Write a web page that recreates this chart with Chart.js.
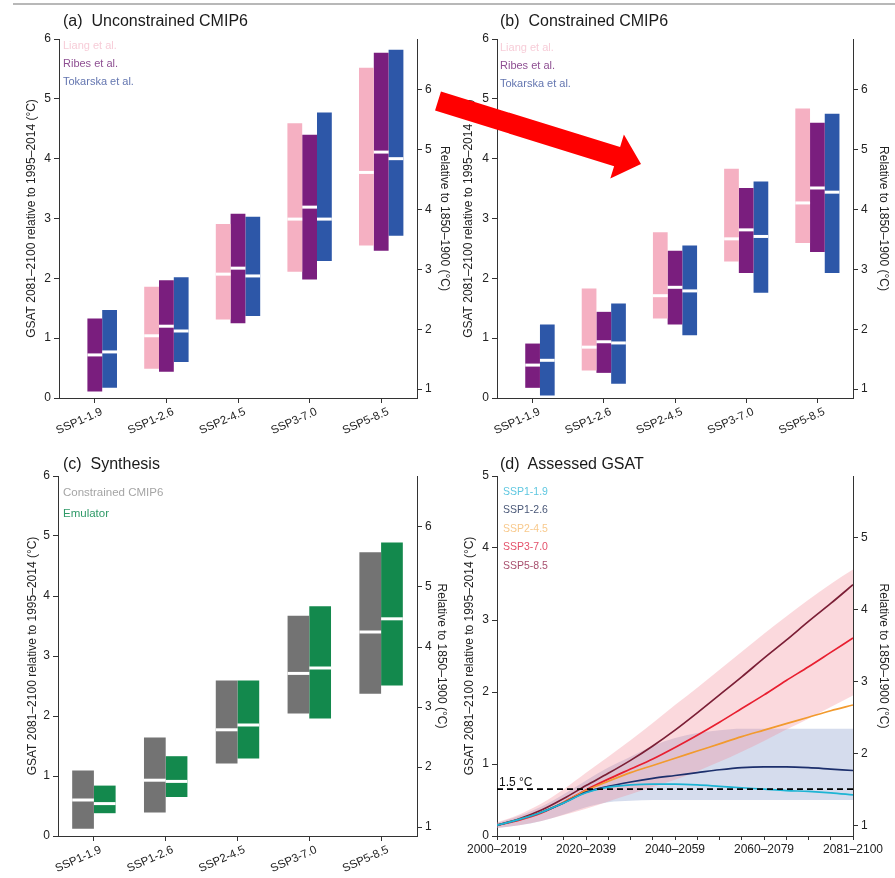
<!DOCTYPE html>
<html><head><meta charset="utf-8">
<script src="https://cdn.jsdelivr.net/npm/chart.js@4.4.1/dist/chart.umd.min.js"></script>
<style>
html,body{margin:0;padding:0;background:#fff;}
body{width:895px;height:878px;position:relative;overflow:hidden;font-family:"Liberation Sans",Arial,sans-serif;}
.panel{position:absolute;}
.ptitle{position:absolute;font-size:16px;line-height:16px;color:#1a1a1a;white-space:pre;}
#topline{position:absolute;left:13px;top:3px;width:882px;height:2px;background:#b8b8b8;}
#arrow{position:absolute;left:0;top:0;pointer-events:none;}
</style></head><body>
<div id="topline"></div>
<div class="panel" style="left:0;top:0"><canvas id="ca" width="455" height="440"></canvas></div>
<div class="panel" style="left:440px;top:0"><canvas id="cb" width="455" height="440"></canvas></div>
<div class="panel" style="left:0;top:440px"><canvas id="cc" width="455" height="438"></canvas></div>
<div class="panel" style="left:440px;top:440px"><canvas id="cd" width="455" height="438"></canvas></div>
<div class="ptitle" style="left:63px;top:13px">(a)  Unconstrained CMIP6</div>
<div class="ptitle" style="left:500px;top:13px">(b)  Constrained CMIP6</div>
<div class="ptitle" style="left:63px;top:456px">(c)  Synthesis</div>
<div class="ptitle" style="left:500px;top:456px">(d)  Assessed GSAT</div>
<svg id="arrow" width="895" height="878">
<polygon points="440.96,91.45 620.1,147.1 623.9,134.6 641,164 610.3,178.6 614.1,166.2 435.04,110.55" fill="#ff0000"/>
</svg>
<script>
// ---------- data ----------
const categories = ['SSP1-1.9','SSP1-2.6','SSP2-4.5','SSP3-7.0','SSP5-8.5'];
const leftAxisTitle = 'GSAT 2081–2100 relative to 1995–2014 (°C)';
const rightAxisTitle = 'Relative to 1850–1900 (°C)';
const baselineOffset = 0.85;   // 1850–1900 minus 1995–2014
const rightTicksBars = [1,2,3,4,5,6];
const rightTicksLines = [1,2,3,4,5];

// (a) Unconstrained CMIP6
const aLiangLow  = [null, 0.49, 1.31, 2.11, 2.55];
const aLiangHigh = [null, 1.86, 2.91, 4.59, 5.52];
const aLiangMed  = [null, 1.04, 2.07, 2.99, 3.77];
const aRibesLow  = [0.11, 0.44, 1.25, 1.98, 2.46];
const aRibesHigh = [1.33, 1.97, 3.08, 4.40, 5.77];
const aRibesMed  = [0.72, 1.20, 2.17, 3.19, 4.11];
const aTokLow    = [0.17, 0.60, 1.37, 2.29, 2.71];
const aTokHigh   = [1.47, 2.02, 3.03, 4.77, 5.82];
const aTokMed    = [0.77, 1.12, 2.04, 2.99, 4.00];

// (b) Constrained CMIP6
const bLiangLow  = [null, 0.46, 1.33, 2.28, 2.59];
const bLiangHigh = [null, 1.83, 2.77, 3.83, 4.84];
const bLiangMed  = [null, 0.85, 1.71, 2.66, 3.26];
const bRibesLow  = [0.17, 0.42, 1.23, 2.09, 2.44];
const bRibesHigh = [0.91, 1.44, 2.46, 3.51, 4.60];
const bRibesMed  = [0.55, 0.94, 1.85, 2.81, 3.51];
const bTokLow    = [0.04, 0.24, 1.05, 1.76, 2.09];
const bTokHigh   = [1.23, 1.58, 2.55, 3.62, 4.75];
const bTokMed    = [0.63, 0.92, 1.79, 2.70, 3.44];

// (c) Synthesis
const cConLow  = [0.12, 0.39, 1.21, 2.04, 2.37];
const cConHigh = [1.09, 1.64, 2.59, 3.67, 4.73];
const cConMed  = [0.60, 0.93, 1.77, 2.71, 3.40];
const cEmuLow  = [0.38, 0.65, 1.29, 1.96, 2.51];
const cEmuHigh = [0.84, 1.33, 2.59, 3.83, 4.89];
const cEmuMed  = [0.54, 0.91, 1.85, 2.80, 3.62];

// (d) Assessed GSAT
const years = [2010,2015,2020,2025,2030,2035,2040,2045,2050,2055,2060,2065,2070,2075,2080,2085,2090];
const periodTickYears = [2010,2030,2050,2070,2090];
const periodLabels = ['2000–2019','2020–2039','2040–2059','2060–2079','2081–2100'];
const ssp119 = [0.15,0.23,0.33,0.46,0.60,0.68,0.71,0.72,0.72,0.71,0.69,0.67,0.65,0.63,0.62,0.60,0.57];
const ssp126 = [0.15,0.23,0.33,0.46,0.61,0.69,0.75,0.80,0.84,0.88,0.92,0.95,0.96,0.96,0.95,0.93,0.91];
const ssp245 = [0.15,0.23,0.33,0.47,0.63,0.76,0.88,0.98,1.08,1.18,1.28,1.38,1.47,1.56,1.65,1.74,1.82];
const ssp370 = [0.15,0.22,0.32,0.47,0.64,0.79,0.93,1.07,1.23,1.40,1.58,1.77,1.96,2.16,2.35,2.55,2.75];
const ssp585 = [0.15,0.24,0.36,0.52,0.70,0.87,1.05,1.25,1.47,1.71,1.96,2.21,2.47,2.72,2.98,3.23,3.49];
const ssp370Low  = [0.11,0.15,0.21,0.29,0.38,0.48,0.58,0.68,0.78,0.90,1.03,1.17,1.32,1.48,1.63,1.79,1.95];
const ssp370High = [0.19,0.30,0.45,0.65,0.88,1.10,1.33,1.57,1.82,2.06,2.31,2.56,2.81,3.05,3.28,3.50,3.70];
const ssp126Low  = [0.11,0.15,0.21,0.30,0.40,0.47,0.49,0.50,0.50,0.50,0.50,0.50,0.50,0.50,0.50,0.50,0.50];
const ssp126High = [0.18,0.28,0.41,0.58,0.77,0.95,1.10,1.25,1.36,1.43,1.47,1.49,1.49,1.49,1.49,1.49,1.49];
const threshold15 = 0.65;

// ---------- helpers ----------
Chart.defaults.font.family = '"Liberation Sans", Arial, sans-serif';
Chart.defaults.color = '#222';
const AX = '#333';

const rng = (lo, hi) => lo.map((l, i) => l == null ? null : [l, hi[i]]);
const pts = arr => years.map((x, i) => ({x, y: arr[i]}));

const medianPlugin = {
  id: 'medians',
  afterDatasetsDraw(chart) {
    const ctx = chart.ctx, ys = chart.scales.y;
    chart.data.datasets.forEach((ds, i) => {
      if (!ds.medians) return;
      chart.getDatasetMeta(i).data.forEach((bar, j) => {
        const m = ds.medians[j];
        if (m == null) return;
        const py = ys.getPixelForValue(m);
        ctx.save();
        ctx.strokeStyle = '#fff'; ctx.lineWidth = 3;
        ctx.beginPath(); ctx.moveTo(bar.x - bar.width / 2, py); ctx.lineTo(bar.x + bar.width / 2, py); ctx.stroke();
        ctx.restore();
      });
    });
  }
};

const textLegend = {
  id: 'textLegend',
  afterDraw(chart, args, o) {
    const ctx = chart.ctx, a = chart.chartArea;
    ctx.save();
    ctx.font = o.size + 'px "Liberation Sans", Arial, sans-serif';
    ctx.textBaseline = 'middle'; ctx.textAlign = 'left';
    let k = 0;
    chart.data.datasets.forEach(ds => {
      if (!ds.legendColor) return;
      ctx.fillStyle = ds.legendColor;
      ctx.fillText(ds.label, a.left + o.x, a.top + o.y0 + o.dy * k);
      k++;
    });
    if (o.note) {
      const ys = chart.scales.y;
      ctx.fillStyle = '#111'; ctx.font = '12px "Liberation Sans", Arial, sans-serif';
      ctx.textBaseline = 'bottom';
      ctx.fillText(o.note.text, a.left + 2, ys.getPixelForValue(o.note.value) - 1);
    }
    ctx.restore();
  }
};

function leftY(max, pad, w) {
  return {
    type: 'linear', position: 'left', min: 0, max: max,
    ticks: {stepSize: 1, padding: 3, font: {size: 12}, color: '#222'},
    grid: {drawOnChartArea: false, tickLength: 5, color: AX},
    border: {color: AX, width: 1},
    title: {display: true, text: leftAxisTitle, font: {size: 12}, color: '#222', padding: {top: pad, bottom: 0}},
    afterFit(s) { s.width = w; }
  };
}
function rightY(max, pad, w, tickVals) {
  return {
    type: 'linear', position: 'right', min: baselineOffset, max: max + baselineOffset,
    ticks: {padding: 3, font: {size: 12}, color: '#222'},
    grid: {drawOnChartArea: false, tickLength: 5, color: AX},
    border: {color: AX, width: 1},
    title: {display: true, text: rightAxisTitle, font: {size: 12}, color: '#222', padding: {top: pad, bottom: 0}},
    afterBuildTicks(s) { s.ticks = tickVals.map(v => ({value: v})); },
    afterFit(s) { s.width = w; }
  };
}
function catX() {
  return {
    type: 'category', offset: true,
    ticks: {minRotation: 24, maxRotation: 24, autoSkip: false, padding: 2, labelOffset: 7, font: {size: 11.5}, color: '#222'},
    grid: {offset: false, drawOnChartArea: false, tickLength: 5, color: AX},
    border: {color: AX, width: 1},
    afterFit(s) { s.height = 42; }
  };
}

function barChart(id, datasets, cfg) {
  return new Chart(document.getElementById(id), {
    type: 'bar',
    data: {labels: categories, datasets: datasets},
    options: {
      responsive: false, animation: false,
      layout: {padding: {top: cfg.top, left: 0, right: 0, bottom: 0}},
      datasets: {bar: {categoryPercentage: cfg.cp, barPercentage: 1, borderWidth: 0, borderSkipped: false}},
      plugins: {legend: {display: false}, tooltip: {enabled: false}, textLegend: cfg.legend},
      scales: {x: catX(), y: leftY(6, cfg.lp, cfg.lw), y2: rightY(6, cfg.rp, cfg.rw, rightTicksBars)}
    },
    plugins: [medianPlugin, textLegend]
  });
}

const PINK = '#f5b0c2', PURPLE = '#7a1e7e', BLUE = '#2d57a8', GREY = '#737373', GREEN = '#13894d';

barChart('ca', [
  {label: 'Liang et al.', data: rng(aLiangLow, aLiangHigh), medians: aLiangMed, backgroundColor: PINK, legendColor: '#f7cdd8'},
  {label: 'Ribes et al.', data: rng(aRibesLow, aRibesHigh), medians: aRibesMed, backgroundColor: PURPLE, legendColor: '#8e4f92'},
  {label: 'Tokarska et al.', data: rng(aTokLow, aTokHigh), medians: aTokMed, backgroundColor: BLUE, legendColor: '#6476b0'}
], {top: 39, cp: 0.62, lp: 24, lw: 59, rp: 3, rw: 38, legend: {x: 4, y0: 7, dy: 18, size: 11}});

barChart('cb', [
  {label: 'Liang et al.', data: rng(bLiangLow, bLiangHigh), medians: bLiangMed, backgroundColor: PINK, legendColor: '#f7cdd8'},
  {label: 'Ribes et al.', data: rng(bRibesLow, bRibesHigh), medians: bRibesMed, backgroundColor: PURPLE, legendColor: '#8e4f92'},
  {label: 'Tokarska et al.', data: rng(bTokLow, bTokHigh), medians: bTokMed, backgroundColor: BLUE, legendColor: '#6476b0'}
], {top: 39, cp: 0.62, lp: 21, lw: 57, rp: 4, rw: 42, legend: {x: 3, y0: 9, dy: 18, size: 11}});

barChart('cc', [
  {label: 'Constrained CMIP6', data: rng(cConLow, cConHigh), medians: cConMed, backgroundColor: GREY, legendColor: '#a5a5a5'},
  {label: 'Emulator', data: rng(cEmuLow, cEmuHigh), medians: cEmuMed, backgroundColor: GREEN, legendColor: '#2f9a68'}
], {top: 36, cp: 0.605, lp: 25, lw: 58, rp: 6, rw: 38, legend: {x: 5, y0: 17, dy: 21, size: 11.5}});

// (d)
const line = (label, arr, color, legendColor) => ({
  label, data: pts(arr), borderColor: color, borderWidth: 1.7, pointRadius: 0,
  cubicInterpolationMode: 'monotone', fill: false, legendColor, order: 1
});
const band = (label, arr, color, fillTo) => ({
  label, data: pts(arr), borderWidth: 0, borderColor: 'rgba(0,0,0,0)', pointRadius: 0,
  cubicInterpolationMode: 'monotone', backgroundColor: color, fill: fillTo, order: 10
});
new Chart(document.getElementById('cd'), {
  type: 'line',
  data: {datasets: [
    line('SSP1-1.9', ssp119, '#1db4d4', '#5ec7e0'),
    line('SSP1-2.6', ssp126, '#1c2f6c', '#4a5878'),
    line('SSP2-4.5', ssp245, '#f29a2e', '#f8c98c'),
    line('SSP3-7.0', ssp370, '#e81f30', '#e4506a'),
    line('SSP5-8.5', ssp585, '#7b1f36', '#a8506e'),
    {label: '1.5 °C', data: [{x: years[0], y: threshold15}, {x: years[years.length - 1], y: threshold15}],
     borderColor: '#000', borderWidth: 1.8, borderDash: [6, 4], pointRadius: 0, fill: false, order: 0},
    band('SSP3-7.0 range low', ssp370Low, 'rgba(0,0,0,0)', false),
    band('SSP3-7.0 range', ssp370High, 'rgba(243,140,152,0.33)', 6),
    band('SSP1-2.6 range low', ssp126Low, 'rgba(0,0,0,0)', false),
    band('SSP1-2.6 range', ssp126High, 'rgba(128,150,200,0.33)', 8)
  ]},
  options: {
    responsive: false, animation: false,
    layout: {padding: {top: 36, left: 0, right: 0, bottom: 0}},
    plugins: {legend: {display: false}, tooltip: {enabled: false},
      textLegend: {x: 6, y0: 16, dy: 18.5, size: 10.5, note: {text: '1.5 °C', value: threshold15}}},
    scales: {
      x: {
        type: 'linear', min: years[0], max: years[years.length - 1],
        ticks: {stepSize: 5, autoSkip: false, maxRotation: 0, padding: 2, font: {size: 12}, color: '#222',
          callback(v) { const k = periodTickYears.indexOf(v); return k >= 0 ? periodLabels[k] : ''; }},
        grid: {drawOnChartArea: false, tickLength: 4, color: AX},
        border: {color: AX, width: 1},
        afterFit(s) { s.height = 42; }
      },
      y: leftY(5, 22, 57),
      y2: rightY(5, 4, 42, rightTicksLines)
    }
  },
  plugins: [textLegend]
});
</script>
</body></html>
